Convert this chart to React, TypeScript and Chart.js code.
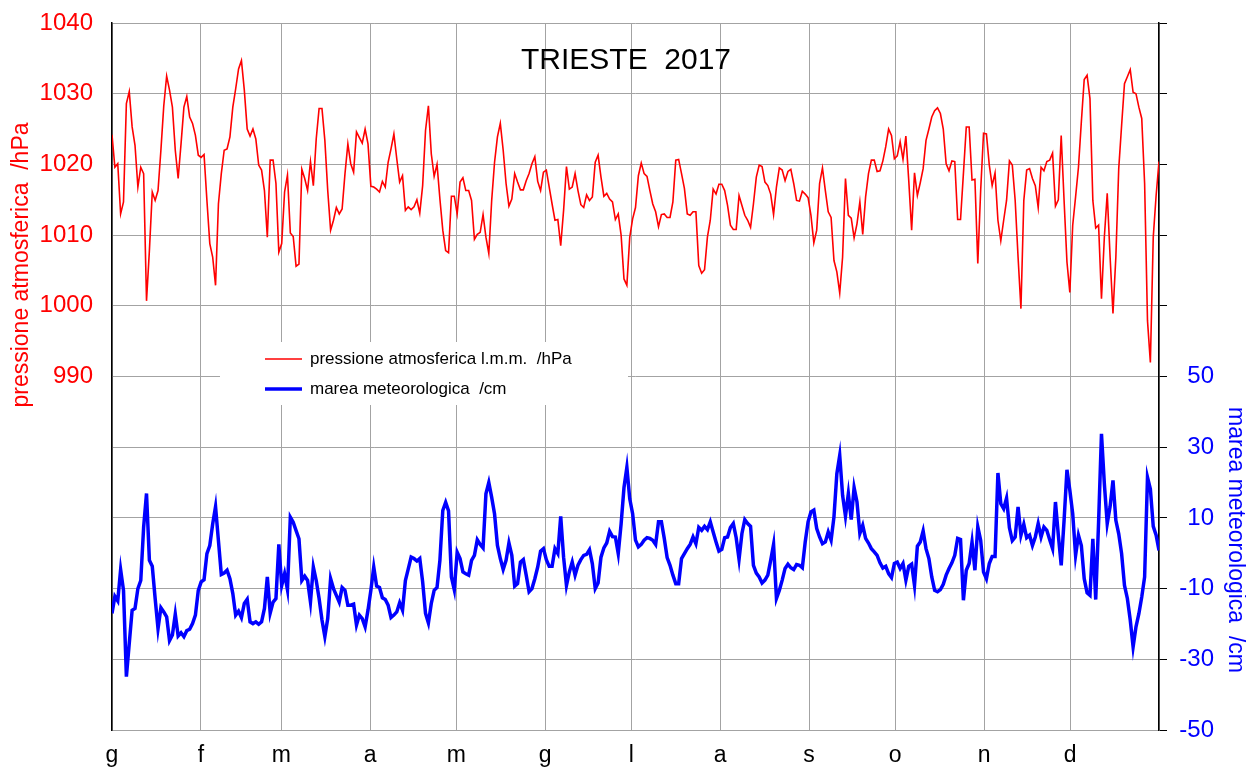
import React, { useEffect, useRef } from "react";
import { Chart, registerables } from "chart.js";

Chart.register(...registerables);

const FONT = '"Liberation Sans", Arial, Helvetica, sans-serif';

const MONTH_LABELS = ["g", "f", "m", "a", "m", "g", "l", "a", "s", "o", "n", "d"];
const MONTH_START_DAYS = [0, 31, 59, 90, 120, 151, 181, 212, 243, 273, 304, 334, 365];
const DAYS_IN_YEAR = 365;

const CHART_TITLE = "TRIESTE  2017";
const PRESSURE_LABEL = "pressione atmosferica l.m.m.  /hPa";
const TIDE_LABEL = "marea meteorologica  /cm";
const PRESSURE_AXIS_TITLE = "pressione atmosferica  /hPa";
const TIDE_AXIS_TITLE = "marea meteorologica  /cm";

// Daily atmospheric pressure (hPa)
const pJan = [1024.2, 1019.6, 1020.1, 1013.0, 1014.7, 1028.6, 1030.3, 1025.3, 1022.7, 1016.8, 1019.6, 1018.7, 1000.7, 1007.8, 1016.1, 1014.9, 1016.3, 1022.0, 1028.3, 1032.5, 1030.5, 1028.1, 1022.0, 1018.0, 1022.9, 1028.1, 1029.6, 1026.7, 1025.8, 1024.1, 1021.3];
const pFeb = [1021.0, 1021.4, 1014.9, 1008.8, 1006.9, 1002.9, 1014.4, 1018.7, 1022.0, 1022.2, 1023.9, 1028.1, 1030.7, 1033.5, 1034.7, 1030.5, 1025.0, 1024.0, 1025.0, 1023.6, 1019.9, 1019.2, 1016.3, 1009.7, 1020.6, 1020.6, 1017.3, 1007.6];
const pMar = [1008.8, 1016.1, 1018.5, 1010.3, 1009.8, 1005.6, 1005.9, 1019.3, 1018.0, 1016.3, 1020.4, 1017.0, 1023.6, 1027.9, 1027.9, 1023.4, 1016.3, 1010.7, 1012.1, 1013.9, 1013.0, 1013.7, 1018.7, 1022.9, 1020.1, 1018.9, 1024.6, 1023.8, 1023.0, 1025.0, 1022.9];
const pApr = [1016.9, 1016.8, 1016.5, 1016.1, 1017.6, 1016.8, 1020.3, 1022.2, 1024.3, 1020.8, 1017.5, 1018.4, 1013.5, 1014.0, 1013.6, 1014.0, 1015.0, 1013.1, 1017.0, 1024.8, 1028.3, 1021.5, 1018.3, 1020.0, 1015.1, 1010.7, 1007.8, 1007.5, 1015.5, 1015.5];
const pMay = [1013.0, 1017.5, 1018.1, 1016.3, 1016.3, 1014.9, 1009.4, 1010.1, 1010.4, 1012.9, 1009.7, 1007.4, 1014.9, 1020.3, 1023.9, 1025.8, 1022.0, 1017.3, 1014.1, 1015.1, 1018.7, 1017.5, 1016.4, 1016.4, 1017.7, 1018.7, 1020.1, 1021.1, 1017.6, 1016.3, 1018.9];
const pJun = [1019.2, 1016.8, 1014.4, 1012.1, 1012.2, 1008.5, 1013.5, 1019.7, 1016.5, 1016.8, 1018.7, 1016.3, 1014.3, 1013.9, 1015.7, 1014.9, 1015.4, 1020.3, 1021.3, 1018.2, 1015.5, 1015.9, 1015.1, 1014.7, 1012.2, 1013.0, 1010.0, 1003.8, 1002.9, 1009.7];
const pJul = [1012.3, 1013.9, 1018.4, 1020.2, 1018.7, 1018.3, 1016.3, 1014.4, 1013.3, 1011.2, 1012.9, 1013.0, 1012.5, 1012.5, 1014.7, 1020.6, 1020.7, 1018.7, 1016.6, 1013.0, 1012.8, 1013.3, 1013.3, 1005.7, 1004.6, 1005.1, 1009.7, 1012.1, 1016.5, 1015.8, 1017.2];
const pAug = [1017.2, 1016.3, 1014.2, 1011.4, 1010.8, 1010.8, 1015.6, 1014.2, 1012.8, 1012.1, 1011.1, 1014.4, 1018.2, 1019.9, 1019.7, 1017.5, 1017.0, 1015.8, 1012.9, 1016.8, 1019.5, 1019.2, 1017.7, 1019.0, 1019.3, 1017.3, 1014.9, 1014.8, 1016.2, 1015.8, 1015.3];
const pSep = [1012.8, 1008.9, 1010.7, 1017.3, 1019.5, 1016.3, 1013.3, 1012.5, 1006.4, 1004.8, 1001.8, 1006.9, 1018.0, 1012.8, 1012.4, 1009.6, 1011.6, 1014.7, 1010.1, 1015.4, 1018.7, 1020.6, 1020.6, 1019.0, 1019.1, 1020.5, 1022.5, 1025.0, 1024.1, 1020.8];
const pOct = [1021.2, 1023.2, 1020.7, 1024.0, 1017.7, 1010.7, 1018.8, 1015.6, 1017.4, 1019.4, 1023.4, 1025.0, 1026.7, 1027.6, 1028.0, 1027.2, 1025.0, 1020.1, 1019.1, 1020.5, 1020.4, 1012.2, 1012.2, 1018.7, 1025.3, 1025.3, 1017.8, 1017.9, 1006.0, 1016.3, 1024.4];
const pNov = [1024.3, 1019.9, 1017.0, 1018.8, 1012.1, 1009.2, 1012.1, 1014.9, 1020.5, 1019.9, 1014.9, 1006.9, 999.6, 1014.9, 1019.2, 1019.4, 1018.0, 1017.0, 1013.9, 1019.6, 1019.1, 1020.4, 1020.6, 1021.6, 1014.1, 1015.0, 1024.1, 1014.9, 1006.2, 1001.9];
const pDec = [1011.4, 1015.4, 1019.6, 1026.0, 1032.0, 1032.6, 1029.3, 1014.9, 1011.0, 1011.4, 1001.0, 1009.7, 1015.9, 1006.9, 998.9, 1006.9, 1019.4, 1025.5, 1031.4, 1032.4, 1033.4, 1030.2, 1030.0, 1028.1, 1026.5, 1017.3, 997.9, 992.0, 1009.7, 1015.6, 1020.4];

// Daily meteorological tide (cm)
const tJan = [-17, -12.2, -13.5, -4.6, -10.5, -34.9, -25.5, -16.1, -15.6, -10, -7.7, 7.4, 16.9, -2, -3.7, -12.8, -21.3, -15.4, -16.6, -18, -24.7, -23.1, -17.2, -23.4, -22.5, -23.6, -21.9, -21.5, -19.9, -17.5, -10.5];
const tFeb = [-8.1, -7.5, -0.1, 2.2, 8.3, 13.2, 3.6, -6, -5.6, -4.8, -7.2, -11.4, -17.5, -16.4, -18.2, -14.2, -13, -19.4, -19.9, -19.4, -20.1, -19.4, -15.6, -6.7, -16.9, -13.8, -12.8, 2.5];
const tMar = [-9.1, -5.8, -10.3, 10.2, 8.8, 6.4, 4.1, -7.7, -6.5, -7.7, -13.8, -3.9, -7.7, -12.8, -18.9, -23.6, -18.5, -7.2, -10, -11.9, -13.8, -9.7, -10.5, -14.7, -14.7, -14.4, -20.3, -17.5, -18.5, -20.8, -16.1];
const tApr = [-10.5, -3.9, -9.3, -9.7, -12.6, -13.1, -14.7, -18.2, -17.5, -16.6, -14, -16.1, -7.7, -4.4, -1.1, -1.5, -2.2, -1.5, -8.1, -17, -19.7, -14.2, -10.5, -9.7, -2, 12.1, 14.4, 12, -6.7, -10.3];
const tMay = [0.3, -1.5, -5.3, -5.8, -6.2, -2, -0.6, 3.8, 2.5, 1.5, 16.8, 20, 15.8, 11.1, 2.2, -1.5, -4.6, -2, 2.9, -0.6, -9.3, -8.6, -2.5, -1.8, -6.2, -10.9, -10, -7.2, -3.9, 0.6, 1.3];
const tJun = [-1.8, -3.7, -3.7, 1.3, -0.1, 10.4, -1.1, -9.1, -5.3, -2.5, -6.2, -3.4, -1.8, -0.6, -0.3, 1, -3, -10, -8.4, -1.1, 1.5, 2.9, 6.2, 4.7, 4.6, -0.1, 8.3, 18.6, 24.3, 15.4];
const tJul = [11.2, 3.7, 1.8, 2.5, 3.7, 4.4, 4.2, 3.7, 2.5, 8.9, 8.9, 4.2, -1.2, -3.4, -6.2, -8.6, -8.6, -1.5, -0.1, 1.3, 2.5, 4.6, 2.7, 7.3, 6.5, 7.6, 6.7, 8.9, 6, 3.2, 0.6];
const tAug = [1.1, 4.4, 4.6, 7.3, 8.4, 4.4, -1.7, 5.6, 9.5, 8.4, 7.6, -3.4, -5.6, -6.7, -8.4, -7.6, -6.2, -2, 2.5, -12.8, -10.5, -7.6, -4.3, -3.1, -4.1, -4.6, -3.2, -3.4, -4.1, 3.2, 8.9];
const tSep = [11.7, 12.2, 7, 4.6, 2.7, 3.2, 6, 3.7, 10.3, 22.5, 27.7, 16.4, 10.5, 16.9, 9.5, 18.6, 14.5, 5.6, 7.9, 4.2, 2.9, 1.3, 0.4, -0.6, -2.7, -4.2, -3.7, -5.8, -6.9, -2.9];
const tOct = [-2.5, -4.3, -2.9, -7.6, -3.7, -3.1, -9.1, 2, 3.2, 6.3, 1.3, -1.5, -6.7, -10.5, -10.9, -10.3, -8.8, -6.2, -4.3, -2.7, -0.6, 4.2, 3.9, -13.3, -4.8, -2.9, 3.2, -4.8, 7.5, 3.7, -5.3];
const tNov = [-7.2, -2.9, -0.9, -0.9, 22.7, 14, 12.6, 15.6, 7.2, 3.6, 4.6, 13.1, 5.1, 8.2, 4.4, 5.1, 2.2, 4.6, 8.4, 4.6, 7.4, 6.5, 3.8, 1.3, 14.5, 5.1, -3.4, 9.3, 23.6, 17.8];
const tDec = [11.2, -0.6, 5.1, 2.2, -7.2, -11.2, -11.9, 4.1, -13.1, 8.8, 33.8, 19.6, 8.4, 13.2, 20.6, 9.3, 5.5, -0.1, -9.1, -12.8, -18.9, -26.5, -20.8, -17.1, -12.4, -6.7, 21.5, 18.2, 7.6, 5.1, 0.8];

const PRESSURE = [...pJan, ...pFeb, ...pMar, ...pApr, ...pMay, ...pJun, ...pJul, ...pAug, ...pSep, ...pOct, ...pNov, ...pDec];
const TIDE = [...tJan, ...tFeb, ...tMar, ...tApr, ...tMay, ...tJun, ...tJul, ...tAug, ...tSep, ...tOct, ...tNov, ...tDec];

const toPoints = (arr: number[]) =>
  arr.map((v, i) => ({ x: (i * DAYS_IN_YEAR) / (arr.length - 1), y: v }));

const GRID = "#a3a3a3";
const TICK_SIZE = 24;

const overlayPlugin = {
  id: "overlay",
  beforeDatasetsDraw(chart: any) {
    const ctx = chart.ctx;
    ctx.save();
    ctx.fillStyle = "#ffffff";
    ctx.fillRect(220, 342, 408, 63);
    ctx.restore();
  },
  afterDatasetsDraw(chart: any) {
    const ctx = chart.ctx;
    const area = chart.chartArea;
    ctx.save();
    // title
    ctx.fillStyle = "#000";
    ctx.font = `30px ${FONT}`;
    ctx.textAlign = "center";
    ctx.textBaseline = "middle";
    ctx.fillText(CHART_TITLE, 626, 61);

    // legend
    ctx.font = `17px ${FONT}`;
    ctx.textAlign = "left";
    ctx.strokeStyle = "#ff0000";
    ctx.lineWidth = 1.6;
    ctx.beginPath();
    ctx.moveTo(265, 359);
    ctx.lineTo(302, 359);
    ctx.stroke();
    ctx.fillText(PRESSURE_LABEL, 310, 359);
    ctx.strokeStyle = "#0000ff";
    ctx.lineWidth = 3.5;
    ctx.beginPath();
    ctx.moveTo(265, 389);
    ctx.lineTo(302, 389);
    ctx.stroke();
    ctx.fillText(TIDE_LABEL, 310, 389);

    // axis titles
    ctx.font = `23px ${FONT}`;
    ctx.textAlign = "center";
    ctx.fillStyle = "#ff0000";
    ctx.save();
    ctx.translate(22, 265);
    ctx.rotate(-Math.PI / 2);
    ctx.fillText(PRESSURE_AXIS_TITLE, 0, 0);
    ctx.restore();
    ctx.fillStyle = "#0000ff";
    ctx.save();
    ctx.translate(area.right + 76, 540);
    ctx.rotate(Math.PI / 2);
    ctx.fillText(TIDE_AXIS_TITLE, 0, 0);
    ctx.restore();
    ctx.restore();
  },
};

export default function App() {
  const canvasRef = useRef<HTMLCanvasElement | null>(null);

  useEffect(() => {
    if (!canvasRef.current) return;
    const chart = new Chart(canvasRef.current, {
      type: "line",
      data: {
        datasets: [
          {
            label: PRESSURE_LABEL,
            data: toPoints(PRESSURE),
            borderColor: "#ff0000",
            borderWidth: 1.6,
            pointRadius: 0,
            tension: 0,
            yAxisID: "y",
          },
          {
            label: TIDE_LABEL,
            data: toPoints(TIDE),
            borderColor: "#0000ff",
            borderWidth: 3.5,
            pointRadius: 0,
            tension: 0,
            yAxisID: "y2",
          },
        ],
      },
      options: {
        animation: false,
        responsive: false,
        devicePixelRatio: 1,
        layout: { padding: { top: 23, right: 32, left: 0, bottom: 0 } },
        plugins: { legend: { display: false }, tooltip: { enabled: false } },
        scales: {
          x: {
            type: "linear",
            min: 0,
            max: DAYS_IN_YEAR,
            afterBuildTicks: (s: any) => {
              s.ticks = MONTH_START_DAYS.map((v) => ({ value: v }));
            },
            afterFit: (s: any) => {
              s.height = 39;
            },
            grid: { color: GRID, lineWidth: 1, drawTicks: false },
            border: { display: true, color: GRID, width: 1 },
            ticks: {
              autoSkip: false,
              maxRotation: 0,
              padding: 12,
              color: "#000",
              font: { family: FONT, size: 23 },
              callback: (_v: any, i: number) => MONTH_LABELS[i] ?? "",
            },
          },
          y: {
            type: "linear",
            position: "left",
            min: 940,
            max: 1040,
            afterFit: (s: any) => {
              s.width = 112;
            },
            grid: {
              color: GRID,
              lineWidth: 1,
              drawTicks: true,
              tickLength: 16,
              tickColor: "rgba(0,0,0,0)",
            },
            border: { display: true, color: "#000", width: 1.5 },
            ticks: {
              stepSize: 10,
              padding: 3,
              color: "#ff0000",
              font: { family: FONT, size: TICK_SIZE },
              callback: (v: any) => (Number(v) >= 990 ? String(v) : ""),
            },
          },
          y2: {
            type: "linear",
            position: "right",
            min: -50,
            max: 150,
            afterFit: (s: any) => {
              s.width = 55;
            },
            grid: { drawOnChartArea: false, drawTicks: true, tickLength: 8, color: "#000" },
            border: { display: true, color: "#000", width: 1.5 },
            ticks: {
              stepSize: 20,
              padding: 3,
              crossAlign: "far",
              color: "#0000ff",
              font: { family: FONT, size: TICK_SIZE },
              callback: (v: any) => (Number(v) <= 50 ? String(v) : ""),
            },
          },
        },
      } as any,
      plugins: [overlayPlugin],
    });
    return () => chart.destroy();
  }, []);

  return (
    <div style={{ position: "fixed", left: 0, top: 0, width: 1246, height: 769, background: "#fff" }}>
      <canvas ref={canvasRef} width={1246} height={769} />
    </div>
  );
}
